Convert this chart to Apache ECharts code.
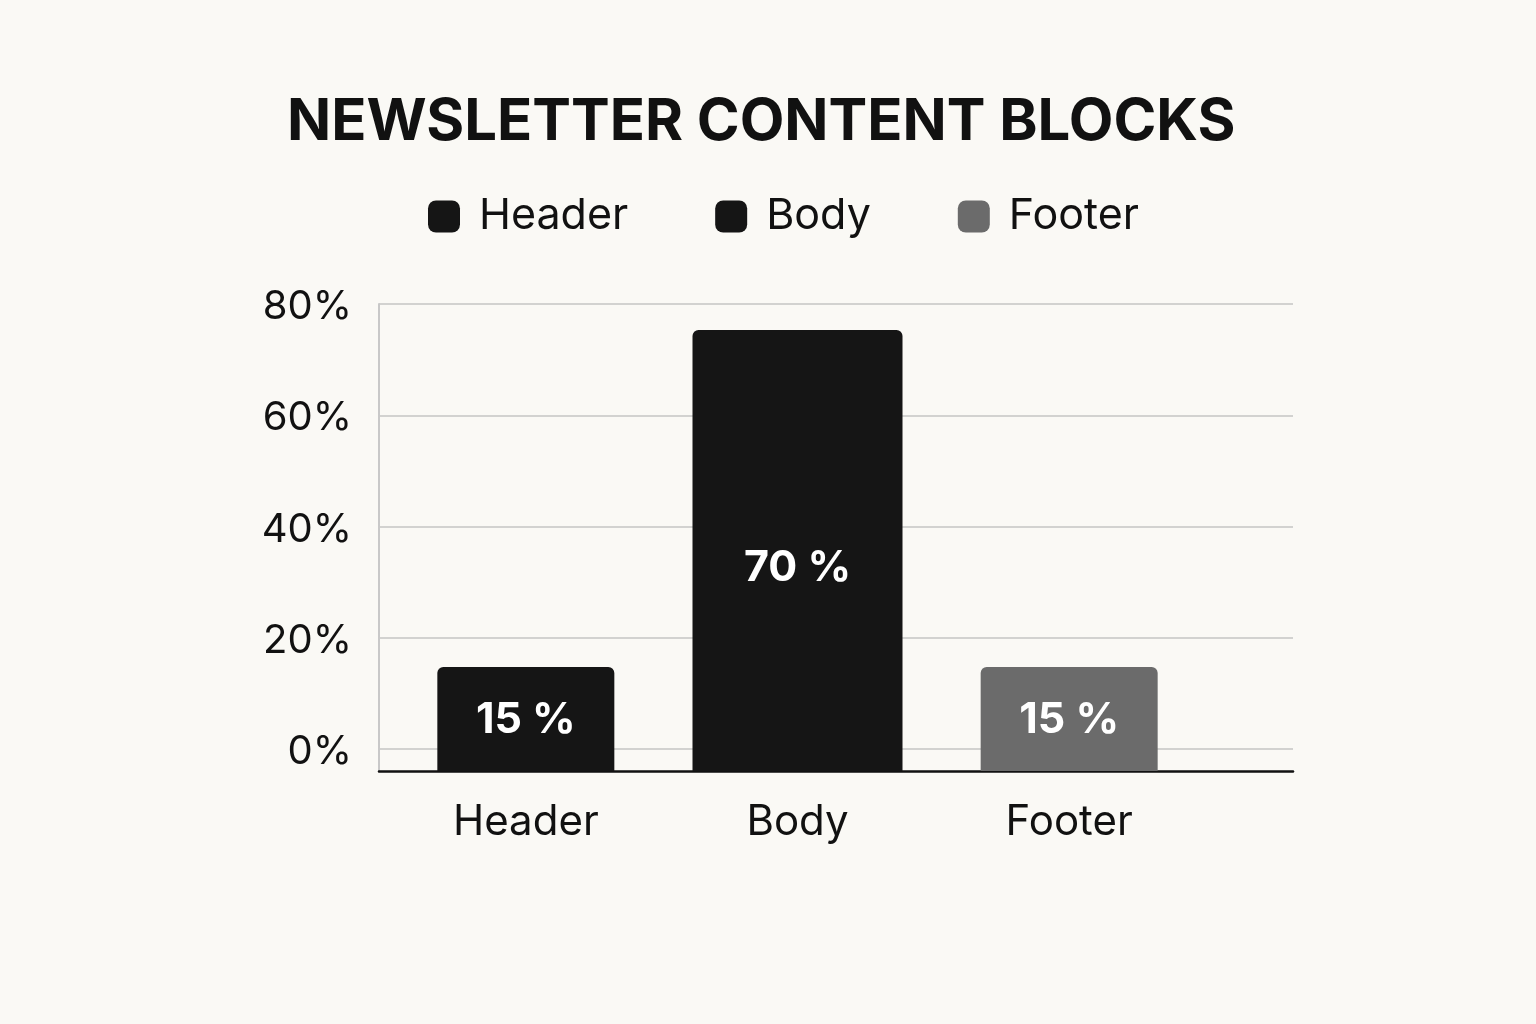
<!DOCTYPE html>
<html>
<head>
<meta charset="utf-8">
<script src="https://cdn.jsdelivr.net/npm/echarts@6/dist/echarts.min.js"></script>
<style>
html,body{margin:0;padding:0;background:#faf9f5;}
#chart{width:1536px;height:1024px;}
</style>
</head>
<body>
<div id="chart"></div>
<script>
const titleText = 'NEWSLETTER CONTENT BLOCKS';
const categories = ['Header', 'Body', 'Footer'];
const barValues = [14.6, 75.3, 14.6];
const barLabels = ['15 %', '70 %', '15 %'];
const barColors = ['#151515', '#151515', '#6b6b6b'];
const yTicks = [0, 20, 40, 60, 80];

const FONT = 'Inter, "Noto Sans", sans-serif';
const yMin = yTicks[0], yMax = yTicks[yTicks.length - 1], yStep = yTicks[1] - yTicks[0];
const belowZero = -4.14; // bars continue below the 0% gridline down to the axis baseline
const labelOffsets = [[0, 13], [0, 29], [0, 13]];

function seriesFor(i, xAxisIndex, width) {
  const data = categories.map((c, j) => {
    if (j !== i) return '-';
    return {
      value: barValues[j],
      itemStyle: { color: barColors[j], borderRadius: [6, 6, 0, 0] },
      label: { offset: labelOffsets[j] }
    };
  });
  return {
    name: categories[i],
    type: 'bar',
    xAxisIndex: xAxisIndex,
    yAxisIndex: 2,
    barWidth: width,
    barGap: '-100%',
    z: 3,
    data: data,
    itemStyle: { color: barColors[i] },
    label: {
      show: true,
      position: 'inside',
      color: '#ffffff',
      fontFamily: FONT,
      fontWeight: 'bold',
      fontSize: 43,
      formatter: p => barLabels[p.dataIndex]
    },
    emphasis: { disabled: true },
    animation: false
  };
}

// lower part of each bar, between the 0% gridline and the axis baseline
function extensionFor(indices, xAxisIndex, width) {
  return {
    name: 'ext' + xAxisIndex,
    type: 'bar',
    xAxisIndex: xAxisIndex,
    yAxisIndex: 2,
    barWidth: width,
    barGap: '-100%',
    z: 3,
    data: categories.map((c, j) => indices.includes(j)
      ? { value: belowZero, itemStyle: { color: barColors[j] } } : '-'),
    emphasis: { disabled: true },
    animation: false
  };
}

const chart = echarts.init(document.getElementById('chart'), null, { renderer: 'canvas' });
chart.setOption({
  backgroundColor: '#faf9f5',
  animation: false,
  title: {
    text: titleText,
    left: 282,
    top: 89,
    textStyle: { fontFamily: FONT, fontWeight: 'bold', fontSize: 58, color: '#111111' }
  },
  legend: {
    left: 423,
    top: 190,
    itemWidth: 32,
    itemHeight: 32,
    itemGap: 87,
    icon: 'roundRect',
    data: categories,
    textStyle: { fontFamily: FONT, fontSize: 43, color: '#111111', padding: [0, 0, 0, 14] }
  },
  grid: [
    { left: 379, top: 304, width: 914, height: 467 },
    { left: 379, top: 304, width: 914, height: 445 },
    { left: 390, top: 304, width: 815, height: 467 }
  ],
  xAxis: [
    { gridIndex: 0, type: 'value', min: 0, max: 1, axisLine: { show: true, onZero: false, lineStyle: { color: '#111111', width: 2.5 } }, axisTick: { show: false }, axisLabel: { show: false }, splitLine: { show: false } },
    { gridIndex: 1, type: 'value', min: 0, max: 1, show: false },
    { gridIndex: 2, type: 'category', data: categories, axisLine: { show: false }, axisTick: { show: false },
      axisLabel: { fontFamily: FONT, fontSize: 42, color: '#111111', margin: 30 } },
    { gridIndex: 2, type: 'category', data: categories, show: false }
  ],
  yAxis: [
    { gridIndex: 0, type: 'value', min: 0, max: 1, axisLine: { show: true, onZero: false, lineStyle: { color: '#c8c8c8', width: 2 } }, axisTick: { show: false }, axisLabel: { show: false }, splitLine: { show: false } },
    { gridIndex: 1, type: 'value', min: yMin, max: yMax, interval: yStep,
      axisLine: { show: false }, axisTick: { show: false },
      axisLabel: { fontFamily: FONT, fontSize: 40, color: '#111111', margin: 27,
        formatter: '{a|{value}%}',
        rich: { a: { fontFamily: FONT, fontSize: 40, color: '#111111', padding: [6, 0, 0, 0] } } },
      splitLine: { show: true, lineStyle: { color: '#d2d2d0', width: 2 } } },
    { gridIndex: 2, type: 'value', min: belowZero, max: yMax, show: false }
  ],
  series: [
    extensionFor([0, 2], 2, 177),
    seriesFor(0, 2, 177),
    seriesFor(2, 2, 177),
    extensionFor([1], 3, 210),
    seriesFor(1, 3, 210)
  ]
});
</script>
</body>
</html>
